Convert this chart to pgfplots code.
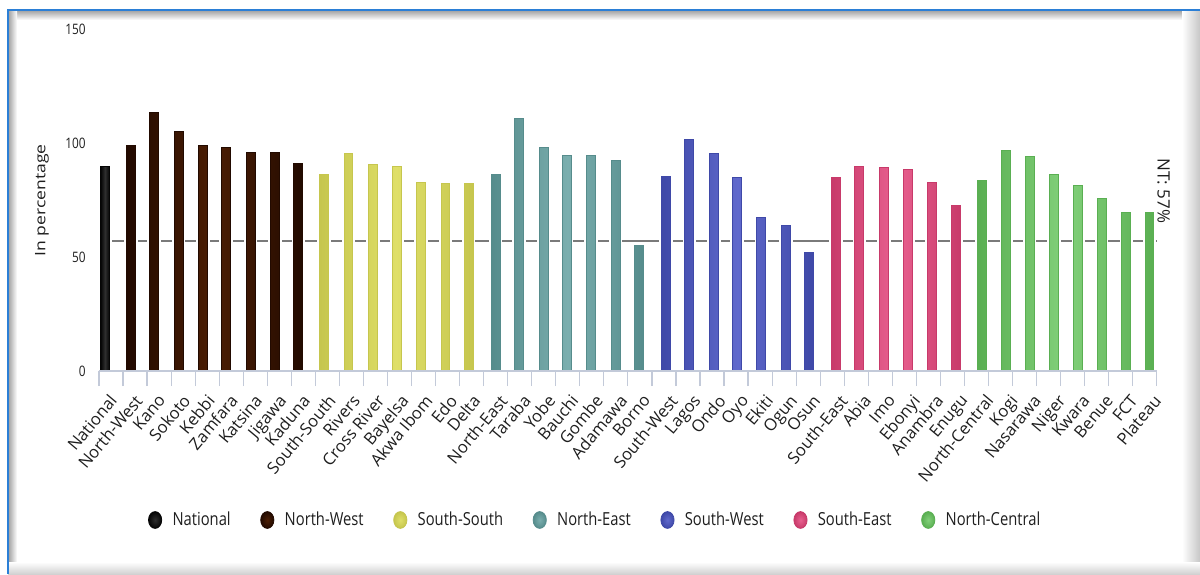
\documentclass[border=0pt]{standalone}
\usepackage{pgfplots}
\pgfplotsset{compat=1.18}
\usepackage{fontspec}
\setmainfont{Open Sans}
\newfontfamily\narrowfont[FakeStretch=0.82]{Open Sans}
\newfontfamily\tallfont[FakeStretch=1.22]{Open Sans}

\definecolor{axisgray}{HTML}{C3CAD9}
\definecolor{refgray}{HTML}{7A7A7A}
\definecolor{txt}{HTML}{1E1E1E}
\definecolor{frameblue}{HTML}{2B7FD6}
% bar colours: light centre / dark edge
\definecolor{natC}{HTML}{2E2E2E}\definecolor{natE}{HTML}{050505}
\definecolor{nwC}{HTML}{4C1E04}\definecolor{nwE}{HTML}{220A00}
\definecolor{ssC}{HTML}{DFDF68}\definecolor{ssE}{HTML}{C6C64E}
\definecolor{neC}{HTML}{7AAEAE}\definecolor{neE}{HTML}{568C8C}
\definecolor{swC}{HTML}{6069CC}\definecolor{swE}{HTML}{3F49A8}
\definecolor{seC}{HTML}{E8608F}\definecolor{seE}{HTML}{C83A6A}
\definecolor{ncC}{HTML}{82D07A}\definecolor{ncE}{HTML}{5AAF52}

\pgfplotsset{
  regionbar/.style 2 args={
    ybar, bar width=8.7, bar shift=0pt,
    left color=#2, right color=#2, middle color=#1,
    draw=#2, line width=0.5pt,
    preaction={draw=white, line width=2.4pt},
    legend image code/.code={\draw[draw=#2, inner color=#1, outer color=#2, line width=0.4pt] (0pt,0pt) ellipse (3.3pt and 4.2pt);}
  }
}

\begin{document}
\begin{tikzpicture}
\useasboundingbox (0,0) rectangle (600pt,287pt);
% panel frame with soft inner shadow
\shade[top color=black!38, bottom color=white] (4pt,277pt) rectangle (600pt,282pt);
\shade[left color=black!38, right color=white] (4pt,0pt) rectangle (8.5pt,282pt);
\shade[left color=white, right color=black!22] (591pt,0pt) rectangle (600pt,282pt);
\shade[top color=white, bottom color=black!18] (4pt,0pt) rectangle (600pt,6pt);
\draw[frameblue, line width=1pt] (4pt,0pt) -- (4pt,282pt) -- (600pt,282pt);

\begin{axis}[
  at={(49.5pt,101.5pt)}, anchor=south west,
  scale only axis, width=529pt, height=170.75pt,
  xmin=99, xmax=1157, ymin=0, ymax=150,
  clip=false, axis on top,
  separate axis lines,
  axis x line*=bottom, axis y line*=left,
  x axis line style={draw=axisgray, line width=0.75pt, -},
  y axis line style={draw=none},
  xtick={99,123.04,...,1157}, xticklabels={},
  x tick style={draw=axisgray, line width=0.6pt},
  tick align=outside, major tick length=7.5pt,
  ytick={0,50,100,150}, y tick style={draw=none},
  yticklabel style={font=\narrowfont\fontsize{7.2}{8}\selectfont, text=txt, inner sep=0pt, anchor=east, xshift=1pt},
  /pgf/number format/assume math mode=true,
  extra x ticks={105,130.8,154,178.7,203,226,250.7,275,298.3,324,348.5,373,396.8,420.8,445.5,468.7,495.7,519,543.7,566.7,591.2,615.7,639,666,689.3,714,737,761.3,786,808.8,836,859.3,884,908.3,931.7,956.3,981.7,1006.3,1029.7,1054,1078.3,1101.7,1126.3,1149.5},
  extra x tick labels={National,North-West,Kano,Sokoto,Kebbi,Zamfara,Katsina,Jigawa,Kaduna,South-South,Rivers,Cross River,Bayelsa,Akwa Ibom,Edo,Delta,North-East,Taraba,Yobe,Bauchi,Gombe,Adamawa,Borno,South-West,Lagos,Ondo,Oyo,Ekiti,Ogun,Osun,South-East,Abia,Imo,Ebonyi,Anambra,Enugu,North-Central,Kogi,Nasarawa,Niger,Kwara,Benue,FCT,Plateau},
  extra x tick style={major tick length=0pt},
  xticklabel style={font=\fontsize{8.3}{10}\selectfont, text=txt, inner sep=0pt, xshift=1.5pt, yshift=-11pt, rotate=50, anchor=north east},
  ylabel={In percentage},
  ylabel style={at={(axis description cs:-0.0539,0.5)}, anchor=center, font=\tallfont\fontsize{7.2}{8}\selectfont, text=txt},
  legend style={at={(0.4671,-0.4363)}, anchor=center, draw=none, fill=none,
    legend columns=7, font=\narrowfont\fontsize{9}{10}\selectfont, text=txt,
    /tikz/every odd column/.append style={column sep=4.2pt},
    /tikz/every even column/.append style={column sep=13.8pt},
    nodes={inner sep=0pt}},
]
% national target line (57%)
\addplot[refgray, line width=1pt, forget plot] coordinates {(105,57) (1157,57)};

\addplot[regionbar={natC}{natE}] coordinates {(105,89.7)};
\addlegendentry{National}
\addplot[regionbar={nwC}{nwE}] coordinates {
  (130.8,99.0) (154,113.4) (178.7,105.1) (203,99.0) (226,98.1)
  (250.7,96.0) (275,96.0) (298.3,91.2)};
\addlegendentry{North-West}
\addplot[regionbar={ssC}{ssE}] coordinates {
  (324,86.4) (348.5,95.4) (373,90.6) (396.8,89.7) (420.8,82.9)
  (445.5,82.3) (468.7,82.3)};
\addlegendentry{South-South}
\addplot[regionbar={neC}{neE}] coordinates {
  (495.7,86.4) (519,110.8) (543.7,98.2) (566.7,94.6) (591.2,94.6)
  (615.7,92.5) (639,55.0)};
\addlegendentry{North-East}
\addplot[regionbar={swC}{swE}] coordinates {
  (666,85.6) (689.3,101.7) (714,95.4) (737,84.9) (761.3,67.5)
  (786,64.0) (808.8,52.1)};
\addlegendentry{South-West}
\addplot[regionbar={seC}{seE}] coordinates {
  (836,84.9) (859.3,89.9) (884,89.2) (908.3,88.4) (931.7,82.9)
  (956.3,72.5)};
\addlegendentry{South-East}
\addplot[regionbar={ncC}{ncE}] coordinates {
  (981.7,83.6) (1006.3,96.8) (1029.7,94.1) (1054,86.4) (1078.3,81.4)
  (1101.7,75.8) (1126.3,69.7) (1149.5,69.7)};
\addlegendentry{North-Central}

\node[rotate=-90, font=\fontsize{8.5}{10}\selectfont, text=txt] at (axis cs:1163.7,79.1) {NT: 57\%};
\end{axis}
\end{tikzpicture}
\end{document}
